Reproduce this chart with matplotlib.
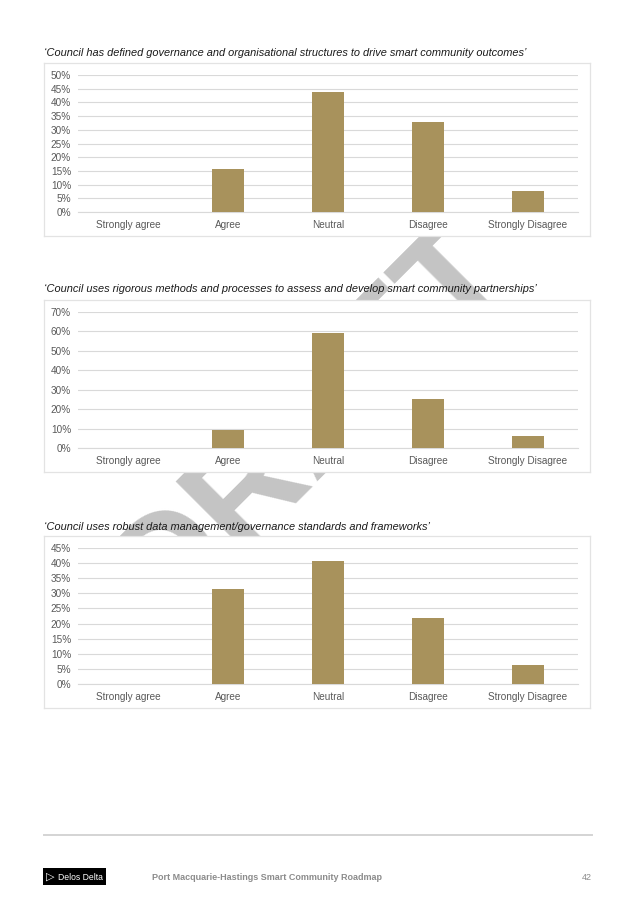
import matplotlib
matplotlib.use("Agg")
import matplotlib.pyplot as plt
from matplotlib.patches import Rectangle
from matplotlib.lines import Line2D
from matplotlib.ticker import PercentFormatter

categories = ["Strongly agree", "Agree", "Neutral", "Disagree", "Strongly Disagree"]

gov_structures = [0.0, 15.6, 43.8, 32.8, 7.8]
partnerships = [0.0, 9.4, 59.4, 25.0, 6.3]
data_mgmt = [0.0, 31.3, 40.6, 21.9, 6.3]

titles = [
    "\u2018Council has defined governance and organisational structures to drive smart community outcomes\u2019",
    "\u2018Council uses rigorous methods and processes to assess and develop smart community partnerships\u2019",
    "\u2018Council uses robust data management/governance standards and frameworks\u2019",
]
y_max = [50, 70, 45]
y_step = [5, 10, 5]

plt.rcParams['font.family'] = ['Liberation Sans', 'DejaVu Sans']

W, H = 636, 907
fig = plt.figure(figsize=(W / 100, H / 100), dpi=100)
fig.patch.set_facecolor("white")

def fx(px):
    return px / W

def fy(py):
    return 1 - py / H

bar_color = "#a8925c"
grid_color = "#d9d9d9"
text_color = "#595959"

# watermark, sits behind the chart boxes
fig.text(fx(338), fy(450), "DRAFT", fontsize=106, fontweight="bold", color="#c4c4c4",
         rotation=45, rotation_mode="anchor", ha="center", va="baseline", zorder=-10)

# (box top, box bottom, zero line, top gridline, title y)
layout = [
    (63, 236, 212, 75, 53),
    (300, 472, 448, 312, 289),
    (536, 708, 684, 548, 527),
]

series = [gov_structures, partnerships, data_mgmt]

for i in range(3):
    box_top, box_bot, zero_y, top_y, title_y = layout[i]
    box = fig.add_axes([fx(44), fy(box_bot), fx(546), (box_bot - box_top) / H])
    box.set_zorder(1)
    box.set_facecolor("white")
    box.set_xticks([])
    box.set_yticks([])
    for s in box.spines.values():
        s.set_color("#e3e3e3")
        s.set_linewidth(0.9)

    ax = fig.add_axes([fx(78), fy(zero_y), fx(500), (zero_y - top_y) / H])
    ax.set_zorder(2)
    ax.patch.set_alpha(0)
    ax.bar(range(len(categories)), series[i], width=0.32, color=bar_color, zorder=3)
    ax.set_xlim(-0.5, len(categories) - 0.5)
    ax.set_ylim(0, y_max[i])
    ax.set_yticks(range(0, y_max[i] + 1, y_step[i]))
    ax.yaxis.set_major_formatter(PercentFormatter(decimals=0))
    ax.grid(axis="y", color=grid_color, linewidth=0.8, zorder=0)
    ax.set_xticks(range(len(categories)))
    ax.set_xticklabels(categories)
    ax.tick_params(axis="both", length=0, labelsize=7.2, colors=text_color)
    ax.tick_params(axis="x", pad=6)
    ax.tick_params(axis="y", pad=5)
    for name, s in ax.spines.items():
        if name == "bottom":
            s.set_color(grid_color)
            s.set_linewidth(0.8)
        else:
            s.set_visible(False)

    fig.text(fx(44), fy(title_y), titles[i], fontsize=7.9, style="italic",
             color="#1a1a1a", ha="left", va="center", zorder=3)

# footer
fig.add_artist(Line2D([fx(44), fx(592)], [fy(835), fy(835)], color="#d4d4d4", linewidth=1.4))
fig.add_artist(Rectangle((fx(43), fy(885)), fx(63), 17 / H, facecolor="black", edgecolor="none"))
fig.text(fx(46), fy(877), "\u25b7", fontsize=8, color="white", ha="left", va="center",
         family="DejaVu Sans")
fig.text(fx(58), fy(877), "Delos Delta", fontsize=6.2, color="white", ha="left", va="center")
fig.text(fx(152), fy(877), "Port Macquarie-Hastings Smart Community Roadmap", fontsize=6.5,
         fontweight="bold", color="#8c8c8c", ha="left", va="center")
fig.text(fx(592), fy(877), "42", fontsize=6.5, color="#8c8c8c", ha="right", va="center")

fig.savefig("out.png", dpi=100, facecolor="white")
